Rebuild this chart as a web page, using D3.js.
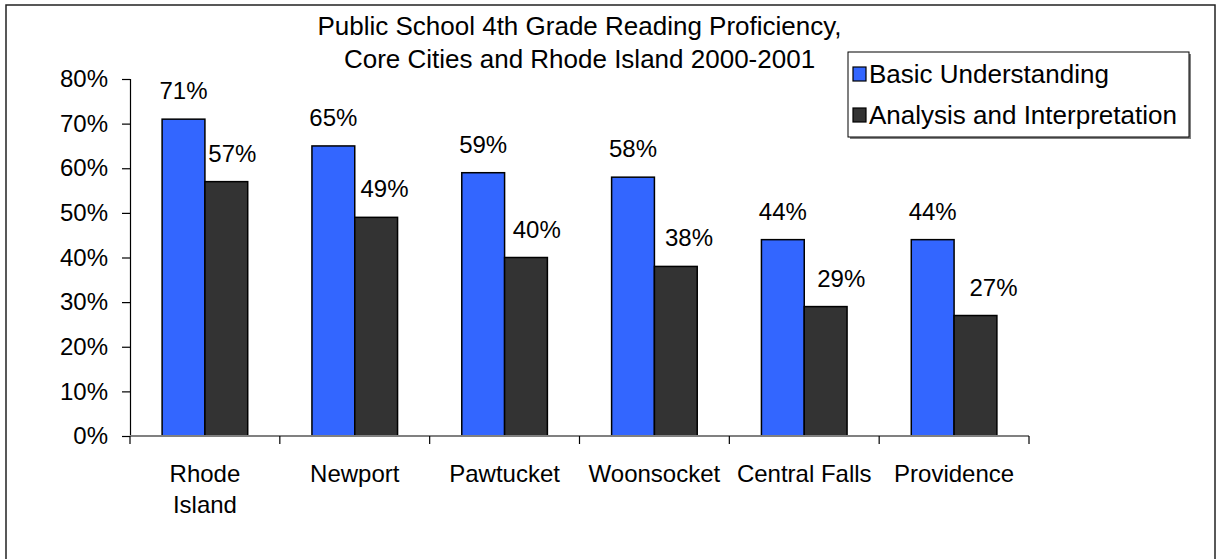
<!DOCTYPE html>
<html lang="en">
<head>
<meta charset="UTF-8">
<script src="https://d3js.org/d3.v7.min.js"></script>
<title>Reading Proficiency</title>
<style>
  body { margin: 0; background: #fff; }
  svg text { font-family: "Liberation Sans", Arial, sans-serif; fill: #000; }
</style>
</head>
<body>
<script>
// data
const cities = ["Rhode Island", "Newport", "Pawtucket", "Woonsocket", "Central Falls", "Providence"];
const seriesNames = ["Basic Understanding", "Analysis and Interpretation"];
const basic = [0.71, 0.65, 0.59, 0.58, 0.44, 0.44];
const analysis = [0.57, 0.49, 0.40, 0.38, 0.29, 0.27];
const yTicks = [0, 0.1, 0.2, 0.3, 0.4, 0.5, 0.6, 0.7, 0.8];
const colors = ["#3366ff", "#333333"];

const w = 1217, h = 559;
const plotLeft = 130, plotRight = 1029, plotTop = 79, plotBottom = 436;

const svg = d3.select("body").append("svg")
  .attr("width", w)
  .attr("height", h);

// outer frame
svg.append("rect")
  .attr("x", 6).attr("y", 5)
  .attr("width", 1209).attr("height", 560)
  .attr("fill", "none")
  .attr("stroke", "#222")
  .attr("stroke-width", 1.5);

// scales
const x0 = d3.scaleBand().domain(cities).range([plotLeft, plotRight]).padding(0);
const x1 = d3.scaleBand().domain(seriesNames).range([0, x0.bandwidth()])
  .paddingInner(0).paddingOuter(0.75);
const y = d3.scaleLinear().domain([0, 0.8]).range([plotBottom, plotTop]);

const rows = cities.map((c, i) => ({city: c, i: i, vals: [basic[i], analysis[i]]}));

// y axis
const yAxis = d3.axisLeft(y).tickValues(yTicks).tickSize(8).tickPadding(14)
  .tickFormat(d3.format(".0%"));
const gy = svg.append("g").attr("transform", `translate(${plotLeft},0)`).call(yAxis);
gy.select(".domain").attr("stroke", "#000").attr("stroke-width", 1.2);
gy.selectAll(".tick line").attr("stroke", "#000").attr("stroke-width", 1.2);
gy.selectAll(".tick text").attr("font-size", 24).attr("font-family", null);

// bars
const groups = svg.selectAll("g.city").data(rows).enter().append("g")
  .attr("class", "city")
  .attr("transform", d => `translate(${x0(d.city)},0)`);

groups.selectAll("rect").data(d => d.vals.map((v, k) => ({k: k, v: v}))).enter()
  .append("rect")
  .attr("x", d => x1(seriesNames[d.k]))
  .attr("y", d => y(d.v))
  .attr("width", x1.bandwidth())
  .attr("height", d => plotBottom - y(d.v))
  .attr("fill", d => colors[d.k])
  .attr("stroke", "#000")
  .attr("stroke-width", 1.5);

// value labels
groups.selectAll("text.val").data(d => d.vals.map((v, k) => ({k: k, v: v, i: d.i}))).enter()
  .append("text")
  .attr("class", "val")
  .attr("x", d => x1(seriesNames[d.k]) + x1.bandwidth() / 2 + (d.k === 1 ? 6 + 2.4 * d.i : 0))
  .attr("y", d => y(d.v) - 20)
  .attr("text-anchor", "middle")
  .attr("font-size", 24)
  .text(d => d3.format(".0%")(d.v));

// x axis
const gx = svg.append("g").attr("transform", `translate(0,${plotBottom})`);
gx.append("line")
  .attr("x1", plotLeft).attr("x2", plotRight)
  .attr("stroke", "#808080").attr("stroke-width", 2);
const edges = cities.map(c => x0(c)).concat([plotRight]);
gx.selectAll("line.tick").data(edges).enter().append("line")
  .attr("class", "tick")
  .attr("x1", d => d).attr("x2", d => d)
  .attr("y1", 0).attr("y2", 8)
  .attr("stroke", "#000").attr("stroke-width", 1.2);

gx.selectAll("text").data(cities).enter().append("text")
  .attr("x", d => x0(d) + x0.bandwidth() / 2)
  .attr("text-anchor", "middle")
  .attr("font-size", 24)
  .each(function(d) {
    const parts = d === "Rhode Island" ? ["Rhode", "Island"] : [d];
    d3.select(this).selectAll("tspan").data(parts).enter().append("tspan")
      .attr("x", x0(d) + x0.bandwidth() / 2)
      .attr("y", (p, j) => 46 + j * 31)
      .text(p => p);
  });

// title
const title = svg.append("text")
  .attr("text-anchor", "middle")
  .attr("font-size", 26);
title.append("tspan").attr("x", (plotLeft + plotRight) / 2).attr("y", 35)
  .text("Public School 4th Grade Reading Proficiency,");
title.append("tspan").attr("x", (plotLeft + plotRight) / 2).attr("y", 68)
  .text("Core Cities and Rhode Island 2000-2001");

// legend
const legend = svg.append("g").attr("transform", "translate(848,52)");
legend.append("rect")
  .attr("x", 2).attr("y", 2).attr("width", 341).attr("height", 85)
  .attr("fill", "#808080");
legend.append("rect")
  .attr("width", 341).attr("height", 85)
  .attr("fill", "#fff").attr("stroke", "#000").attr("stroke-width", 1);
const items = legend.selectAll("g.item").data(seriesNames).enter().append("g")
  .attr("transform", (d, i) => `translate(0,${i * 41})`);
items.append("rect")
  .attr("x", 5).attr("y", 15).attr("width", 13).attr("height", 14)
  .attr("fill", (d, i) => colors[i]).attr("stroke", "#000").attr("stroke-width", 1.2);
items.append("text")
  .attr("x", 21).attr("y", 31)
  .attr("font-size", 26)
  .text(d => d);
</script>
</body>
</html>
